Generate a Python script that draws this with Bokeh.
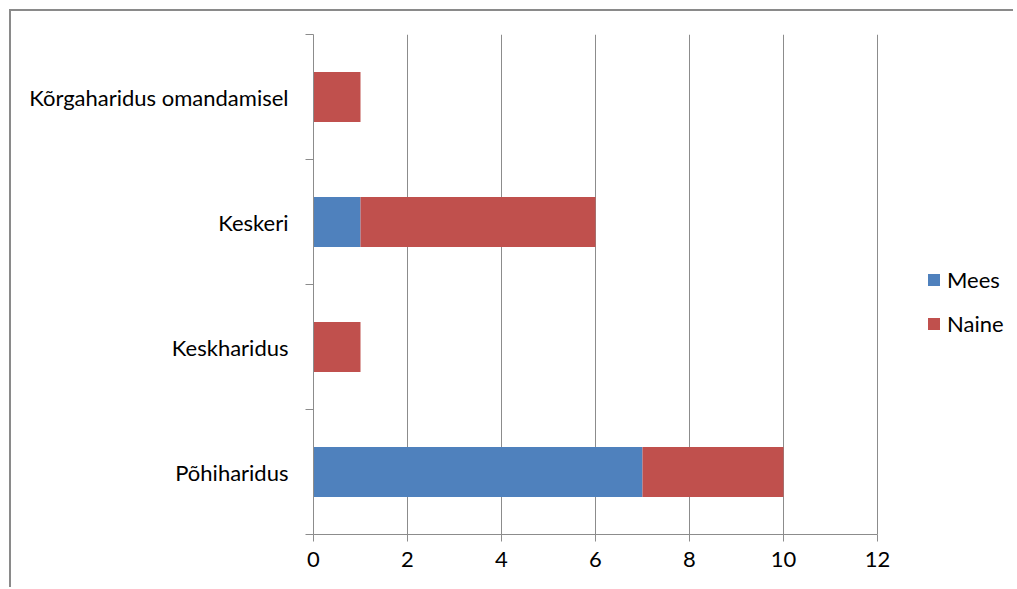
from bokeh.plotting import figure
from bokeh.models import Range1d, FixedTicker, Legend, LegendItem
from bokeh.embed import file_html
from bokeh.resources import INLINE

categories = ["Põhiharidus", "Keskharidus", "Keskeri", "Kõrgaharidus omandamisel"]
mees = [7, 0, 1, 0]
naine = [3, 1, 5, 1]
x_ticks = [0, 2, 4, 6, 8, 10, 12]

BLUE = "#4F81BD"
RED = "#C0504D"
GRID = "#8C8C8C"
FONT = "Lato"
FS = "22px"

# layout (pixels)
W, H = 1004, 578
LEFT, TOP, BOTTOM = 302, 23, 55
AXIS_PX = 564  # pixel length of the 0..12 value axis
frame_w = W - LEFT
x_max = max(x_ticks)
x_end = x_max * frame_w / AXIS_PX

ypos = [i + 0.5 for i in range(len(categories))]
naine_left = mees
naine_right = [m + n for m, n in zip(mees, naine)]

p = figure(width=W, height=H, output_backend="svg", toolbar_location=None,
           x_range=Range1d(0, x_end), y_range=Range1d(0, len(categories)),
           min_border_left=LEFT, min_border_right=0, min_border_top=TOP, min_border_bottom=BOTTOM)
p.margin = (9, 0, 0, 9)
p.outline_line_color = None
p.background_fill_color = "white"
p.border_fill_color = "white"

r_mees = p.hbar(y=ypos, left=0, right=mees, height=0.4, fill_color=BLUE, line_color=None)
r_naine = p.hbar(y=ypos, left=naine_left, right=naine_right, height=0.4, fill_color=RED, line_color=None)

# x axis
xa = p.xaxis[0]
xa.ticker = FixedTicker(ticks=x_ticks)
xa.bounds = (0, x_max)
xa.major_tick_in = 0
xa.major_tick_out = 7
xa.minor_tick_out = 0
xa.axis_line_color = GRID
xa.major_tick_line_color = GRID
xa.major_label_text_font = FONT
xa.major_label_text_font_size = FS
xa.major_label_text_color = "black"
xa.major_label_standoff = 10

# y axis
ya = p.yaxis[0]
ya.ticker = FixedTicker(ticks=ypos, minor_ticks=list(range(len(categories) + 1)))
ya.major_label_overrides = {y: c for y, c in zip(ypos, categories)}
ya.major_tick_in = 0
ya.major_tick_out = 0
ya.minor_tick_in = 0
ya.minor_tick_out = 8
ya.axis_line_color = GRID
ya.minor_tick_line_color = GRID
ya.major_label_text_font = FONT
ya.major_label_text_font_size = FS
ya.major_label_text_color = "black"
ya.major_label_standoff = 17

p.xgrid.ticker = FixedTicker(ticks=x_ticks[1:])
p.xgrid.grid_line_color = GRID
p.ygrid.grid_line_color = None

legend = Legend(items=[LegendItem(label="Mees", renderers=[r_mees]),
                       LegendItem(label="Naine", renderers=[r_naine])],
                location=(613, 197), border_line_color=None, background_fill_alpha=0,
                label_text_font=FONT, label_text_font_size=FS, label_text_color="black",
                label_height=20, glyph_width=15, glyph_height=15, spacing=17,
                label_standoff=6, padding=0, margin=0)
p.add_layout(legend, "center")

p.styles = {"border-top": "2px solid #8a8a8a", "border-left": "2px solid #8a8a8a"}

open("out.html", "w").write(file_html(p, INLINE))
